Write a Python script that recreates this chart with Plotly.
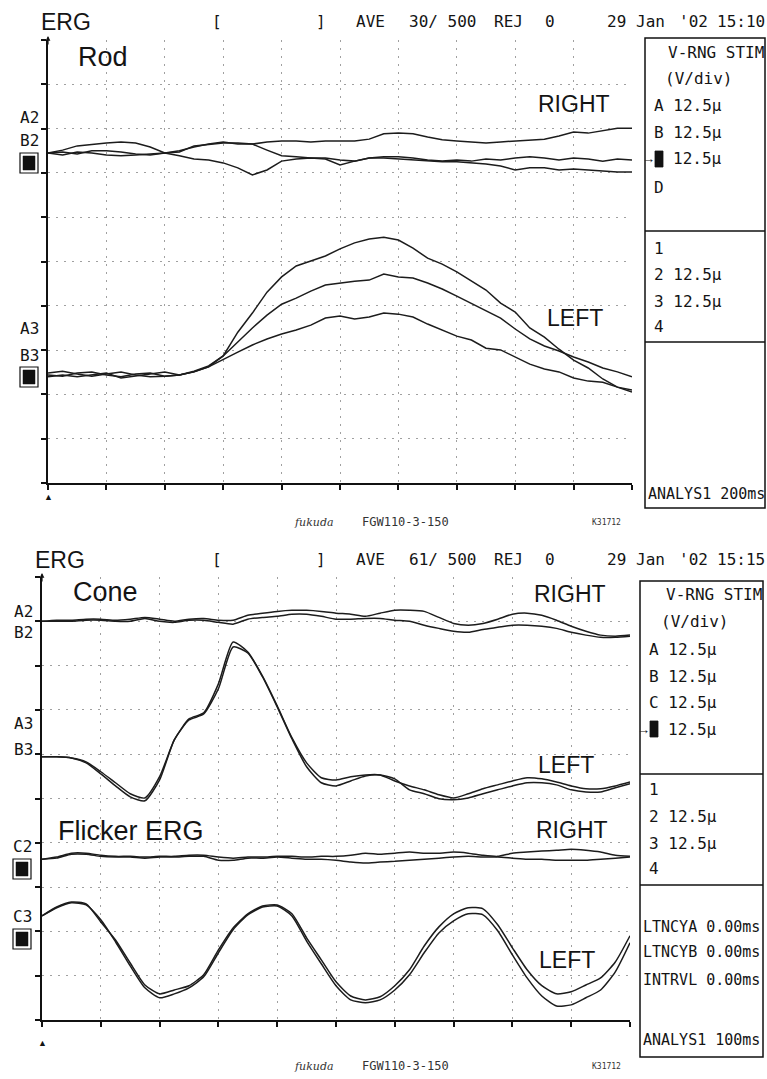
import plotly.graph_objects as go

W, H = 767, 1079

# ---------------- DATA ----------------
UV_PER_DIV = 12.5  # V-RNG 12.5 uV/div

# Rod ERG: analysis 200 ms (5 ms samples), amplitudes in uV relative to channel baseline
rod_t = [0, 5, 10, 15, 20, 25, 30, 35, 40, 45, 50, 55, 60, 65, 70, 75, 80, 85, 90, 95, 100,
         105, 110, 115, 120, 125, 130, 135, 140, 145, 150, 155, 160, 165, 170, 175, 180, 185, 190, 195, 200]
rod_right_1 = [0, 0.8, 2.0, 2.5, 2.8, 3.1, 2.8, 1.7, 0, 0.6, 1.7, 2.5, 3.1, 2.5, 2.5, 3.1, 3.4, 3.4, 3.1, 3.4,
               3.4, 3.4, 3.9, 5.4, 5.6, 5.4, 4.5, 3.7, 3.4, 3.1, 2.8, 3.1, 3.4, 3.7, 3.9, 4.8, 5.9, 5.6, 6.2, 7.0, 7.0]
rod_right_2 = [0, -0.6, 0.3, 0, -0.6, -0.8, -0.6, -0.3, 0, -0.8, -1.7, -2.0, -2.8, -4.2, -6.2, -4.8, -2.3, -1.7, -1.4, -1.7,
               -3.4, -2.3, -1.4, -1.1, -1.1, -1.4, -2.0, -2.3, -2.0, -2.3, -1.7, -2.0, -1.4, -1.1, -1.4, -2.0, -1.4, -1.7, -2.3, -1.7, -2.0]
rod_right_3 = [0, 0.3, -0.3, 0.6, 0.6, 0.3, -0.3, -0.6, 0, 0.3, 2.0, 2.5, 2.8, 2.8, 2.5, 0.8, -0.8, -1.1, -1.4, -1.4,
               -2.0, -2.3, -1.4, -1.4, -1.7, -2.0, -2.3, -2.5, -2.5, -2.8, -3.1, -3.7, -4.8, -4.2, -4.2, -4.8, -4.5, -4.8, -5.1, -5.4, -5.4]
rod_left_1 = [0.3, 0.8, 0, -0.6, 0, 0.6, -0.3, -0.8, -0.6, -0.3, 0.8, 2.3, 5.1, 11.8, 17.2, 23.1, 27.4, 30.5, 31.9, 33.3,
              35.3, 37.0, 38.1, 38.6, 37.8, 35.5, 32.7, 31.0, 28.8, 26.2, 23.7, 20.0, 17.5, 13.0, 10.4, 7.0, 3.9, 1.7, -1.4, -3.7, -5.1]
rod_left_2 = [-0.3, -0.6, 0.3, 0.6, -0.3, -0.8, 0, 0.3, -0.6, -0.3, 0.6, 2.0, 5.1, 9.0, 13.0, 16.6, 19.7, 21.4, 23.4, 25.1,
              25.7, 26.2, 26.5, 28.2, 27.4, 27.1, 25.7, 24.0, 22.0, 20.0, 17.8, 15.8, 12.7, 9.9, 7.9, 6.5, 4.8, 3.4, 1.7, 0.6, -0.8]
rod_left_3 = [-0.8, -0.3, -0.8, -0.3, 0.3, -1.1, -0.6, 0, 0.6, -0.3, 0.6, 2.0, 4.2, 6.2, 8.2, 9.9, 11.3, 12.4, 13.8, 15.8,
              16.4, 15.5, 16.1, 17.2, 16.9, 16.1, 14.1, 12.4, 10.7, 9.6, 7.3, 6.8, 4.8, 2.8, 1.4, 0.6, -1.1, -2.0, -2.3, -3.7, -4.5]

# Cone / Flicker ERG: analysis 100 ms (2.5 ms samples)
cone_t = [0, 2.5, 5, 7.5, 10, 12.5, 15, 17.5, 20, 22.5, 25, 27.5, 30, 32.5, 35, 37.5, 40, 42.5, 45, 47.5, 50,
          52.5, 55, 57.5, 60, 62.5, 65, 67.5, 70, 72.5, 75, 77.5, 80, 82.5, 85, 87.5, 90, 92.5, 95, 97.5, 100]
cone_right_1 = [0, 0.3, 0.3, 0.6, 0.6, 0.3, 0.6, 1.1, 0.6, 0, 0.6, 0.8, 0.3, 0.3, 1.7, 2.3, 2.8, 3.1, 3.1, 2.8,
                2.3, 2.0, 1.4, 2.3, 3.1, 3.1, 2.8, 1.1, -0.6, -1.1, -0.6, 0.6, 2.0, 2.3, 1.7, 0.3, -1.4, -2.8, -3.9, -4.2, -3.9]
cone_right_2 = [0, 0, 0, 0.3, 0.3, 0, 0, 0.8, 0, -0.3, 0.3, 0.3, -0.3, -0.8, 0.6, 1.1, 1.4, 2.0, 2.0, 1.4,
                0.6, 0.6, 0.8, 0.8, 0.3, 0, -1.1, -2.0, -2.8, -3.1, -2.3, -1.7, -1.1, -1.1, -1.4, -2.0, -3.1, -3.9, -4.5, -4.5, -4.2]
cone_left_1 = [0, 0, -0.3, -1.4, -4.2, -7.3, -10.4, -11.6, -5.6, 4.8, 10.7, 12.4, 20.6, 32.4, 29.6, 22.8, 14.4, 5.4, -1.7, -5.9,
               -6.5, -5.6, -5.1, -5.1, -6.8, -8.2, -9.3, -10.7, -11.6, -10.4, -9.0, -7.9, -6.8, -5.9, -6.2, -7.1, -8.2, -9.0, -9.0, -8.2, -7.1]
cone_left_2 = [0, 0, -0.3, -1.7, -4.8, -8.2, -11.3, -12.4, -6.5, 4.8, 10.4, 12.1, 19.2, 31.0, 29.3, 22.6, 14.1, 5.1, -2.8, -7.3,
               -8.2, -6.8, -5.4, -5.1, -6.2, -9.3, -10.4, -11.8, -12.1, -11.6, -10.4, -9.3, -8.2, -7.3, -7.3, -7.9, -9.3, -9.9, -9.9, -8.7, -7.6]
flicker_right_1 = [0, 0.6, 1.7, 1.7, 1.1, 0.8, 0.8, 0.6, 0.8, 0.8, 1.1, 1.1, 0.6, 0.3, 0.6, 0.6, 0.8, 0.8, 0.6, 0.8,
                   0.8, 1.1, 1.7, 1.4, 1.7, 2.0, 1.7, 1.7, 2.0, 1.7, 1.1, 0.8, 1.7, 2.0, 2.3, 2.5, 2.8, 2.5, 2.0, 1.1, 0.8]
flicker_right_2 = [0, 0.3, 1.4, 1.4, 0.8, 0.6, 0.6, 0.3, 0.6, 0.6, 0.8, 0.8, -0.3, -0.3, 0.3, 0.3, 0.6, 0.3, 0, 0,
                   -0.3, -0.8, -1.1, -0.8, -0.6, -0.3, 0, 0.3, 0.6, 0.8, 0.6, 0.6, 0.3, 0, 0, -0.3, -0.3, -0.3, 0, 0.3, 0.6]
flicker_left_1 = [0, 2.5, 3.9, 3.4, -1.7, -6.8, -13.3, -19.5, -22.0, -20.9, -19.7, -16.6, -9.6, -3.4, 0.6, 2.8, 3.1, 0.6, -6.2, -12.4,
                  -18.6, -22.6, -23.7, -22.8, -19.7, -15.2, -8.5, -3.1, 0.6, 2.3, 2.0, -2.5, -9.0, -15.2, -19.7, -22.0, -21.4, -19.5, -17.5, -13.0, -5.6]
flicker_left_2 = [0, 2.3, 3.7, 3.1, -1.1, -7.3, -14.1, -20.3, -23.1, -22.0, -20.3, -17.2, -10.4, -3.9, 0.3, 2.5, 2.8, 0, -7.1, -13.5,
                  -19.7, -23.7, -24.5, -23.7, -20.9, -16.6, -10.4, -4.8, -1.4, 0.6, 0.3, -4.2, -11.0, -17.5, -22.6, -25.4, -25.1, -23.1, -20.9, -15.8, -7.6]

# ---------------- DISPLAY (channel baselines in divisions) ----------------
BASE_ROD_RIGHT, BASE_ROD_LEFT = 7.45, 2.46
BASE_CONE_RIGHT, BASE_CONE_LEFT = 9.0, 5.94
BASE_FLK_RIGHT, BASE_FLK_LEFT = 3.63, 2.35

LINE = dict(color="#1c1c1c", width=1.5)
SANS = "Liberation Sans, Arial, sans-serif"
MONO = "DejaVu Sans Mono, Liberation Mono, monospace"
FS = 16  # instrument text size

fig = go.Figure()

def add(t, vals, base, xa, ya, shape="linear"):
    line = dict(shape=shape, smoothing=0.6, **LINE) if shape == "spline" else dict(**LINE)
    fig.add_trace(go.Scatter(x=t, y=[base * UV_PER_DIV + v for v in vals], mode="lines",
                             line=line, xaxis=xa, yaxis=ya, hoverinfo="skip"))

for s in (rod_right_1, rod_right_2, rod_right_3):
    add(rod_t, s, BASE_ROD_RIGHT, "x", "y")
for s in (rod_left_1, rod_left_2, rod_left_3):
    add(rod_t, s, BASE_ROD_LEFT, "x", "y")
for s in (cone_right_1, cone_right_2):
    add(cone_t, s, BASE_CONE_RIGHT, "x2", "y2", "spline")
for s in (cone_left_1, cone_left_2):
    add(cone_t, s, BASE_CONE_LEFT, "x2", "y2", "spline")
for s in (flicker_right_1, flicker_right_2):
    add(cone_t, s, BASE_FLK_RIGHT, "x2", "y2", "spline")
for s in (flicker_left_1, flicker_left_2):
    add(cone_t, s, BASE_FLK_LEFT, "x2", "y2", "spline")

common = dict(showline=True, linecolor="#111", ticks="outside", tickcolor="#111", ticklen=5, tickwidth=1.5,
              showticklabels=False, zeroline=False, showgrid=True, gridcolor="#a0a0a0",
              griddash="2px,6px", gridwidth=1.3, fixedrange=True, tick0=0)

fig.update_layout(
    width=W, height=H, margin=dict(l=0, r=0, t=0, b=0),
    paper_bgcolor="white", plot_bgcolor="white", showlegend=False,
    xaxis=dict(domain=[48 / W, 632 / W], range=[0, 200], dtick=20, anchor="y", linewidth=2, **common),
    yaxis=dict(domain=[1 - 483 / H, 1 - 40 / H], range=[0, 125], dtick=12.5, anchor="x", linewidth=1.5, **common),
    xaxis2=dict(domain=[42 / W, 630 / W], range=[0, 100], dtick=10, anchor="y2", linewidth=2, **common),
    yaxis2=dict(domain=[1 - 1020 / H, 1 - 577 / H], range=[0, 125], dtick=12.5, anchor="x2", linewidth=1.5, **common),
)

def P(x, y):
    return x / W, 1 - y / H

def txt(x, y, s, size=FS, family=MONO, anchor="center", color="#141414"):
    px_, py_ = P(x, y)
    fig.add_annotation(x=px_, y=py_, xref="paper", yref="paper", text=s, showarrow=False,
                       font=dict(size=size, family=family, color=color), xanchor=anchor, yanchor="middle",
                       borderpad=0)

def rect(x0, y0, x1, y1, fill="white", lw=1.5):
    a0, b0 = P(x0, y0)
    a1, b1 = P(x1, y1)
    fig.add_shape(type="rect", xref="paper", yref="paper", x0=a0, y0=b1, x1=a1, y1=b0,
                  line=dict(color="#111", width=lw), fillcolor=fill, layer="above")

def hline(x0, x1, y, lw=1.5):
    a0, b = P(x0, y)
    a1, _ = P(x1, y)
    fig.add_shape(type="line", xref="paper", yref="paper", x0=a0, y0=b, x1=a1, y1=b,
                  line=dict(color="#111", width=lw))

# headers
for (yh, erg_x, ave, clock) in ((22, 66, "30/ 500", "15:10"), (560, 60, "61/ 500", "15:15")):
    txt(erg_x, yh, "ERG", 23, SANS)
    txt(217, yh, "[")
    txt(321, yh, "]")
    txt(370, yh, "AVE")
    txt(442, yh, ave)
    txt(508, yh, "REJ")
    txt(550, yh, "0")
    txt(616, yh, "29")
    txt(650, yh, "Jan")
    txt(693, yh, "'02")
    txt(766, yh, clock, anchor="right")

# panel labels
txt(103, 57, "Rod", 27, SANS)
txt(105, 592, "Cone", 27, SANS)
txt(131, 831, "Flicker ERG", 27, SANS)
txt(574, 104, "RIGHT", 23, SANS)
txt(575, 318, "LEFT", 23, SANS)
txt(570, 594, "RIGHT", 23, SANS)
txt(566, 765, "LEFT", 23, SANS)
txt(572, 830, "RIGHT", 23, SANS)
txt(567, 960, "LEFT", 23, SANS)

# channel labels and markers
def marker_box(cx, cy):
    rect(cx - 9, cy - 10, cx + 9, cy + 10, fill="white", lw=1.2)
    rect(cx - 6, cy - 7, cx + 6, cy + 7, fill="#111", lw=0.5)

txt(29, 117, "A2"); txt(29, 140, "B2"); marker_box(29, 163)
txt(29, 328, "A3"); txt(29, 355, "B3"); marker_box(29, 377)
txt(23, 611, "A2"); txt(23, 632, "B2")
txt(23, 723, "A3"); txt(23, 749, "B3")
txt(22, 846, "C2"); marker_box(22, 869)
txt(22, 916, "C3"); marker_box(22, 939)

# trigger markers and axis arrows
txt(48, 497, "▲", 9, SANS)
txt(42, 1043, "▲", 9, SANS)
for (ax_x, ax_y) in ((48, 36), (42, 573)):
    a, b = P(ax_x, ax_y)
    fig.add_annotation(x=a, y=b, xref="paper", yref="paper", showarrow=True, ax=0, ay=10,
                       axref="pixel", ayref="pixel", arrowhead=2, arrowsize=0.8, arrowwidth=1.2,
                       arrowcolor="#111", text="")

# info box - top
rect(645, 38, 765, 508)
hline(645, 765, 231)
hline(645, 765, 342)
txt(667, 52, "V-RNG STIM", anchor="left")
txt(664, 79, "(V/div)", anchor="left")
txt(653, 106, "A 12.5µ", anchor="left")
txt(653, 132, "B 12.5µ", anchor="left")
txt(648, 159, "→", 13, SANS)
rect(655, 151, 663, 167, fill="#111", lw=0.8)
txt(672, 159, "12.5µ", anchor="left")
txt(653, 187, "D", anchor="left")
txt(653, 248, "1", anchor="left")
txt(653, 275, "2 12.5µ", anchor="left")
txt(653, 301, "3 12.5µ", anchor="left")
txt(653, 326, "4", anchor="left")
txt(647, 494, "ANALYS1 200ms", 15, anchor="left")

# info box - bottom
rect(640, 581, 763, 1057)
hline(640, 763, 774)
hline(640, 763, 885)
txt(665, 594, "V-RNG STIM", anchor="left")
txt(660, 621, "(V/div)", anchor="left")
txt(648, 649, "A 12.5µ", anchor="left")
txt(648, 676, "B 12.5µ", anchor="left")
txt(648, 702, "C 12.5µ", anchor="left")
txt(643, 729, "→", 13, SANS)
rect(650, 721, 658, 737, fill="#111", lw=0.8)
txt(667, 729, "12.5µ", anchor="left")
txt(648, 789, "1", anchor="left")
txt(648, 816, "2 12.5µ", anchor="left")
txt(648, 843, "3 12.5µ", anchor="left")
txt(648, 868, "4", anchor="left")
txt(642, 927, "LTNCYA 0.00ms", 15, anchor="left")
txt(642, 952, "LTNCYB 0.00ms", 15, anchor="left")
txt(642, 980, "INTRVL 0.00ms", 15, anchor="left")
txt(642, 1040, "ANALYS1 100ms", 15, anchor="left")

# footers
for yf in (522, 1066):
    txt(314, yf, "<i>fukuda</i>", 11, "DejaVu Serif, serif", color="#333")
    txt(405, yf, "FGW110-3-150", 12, MONO, color="#333")
    txt(606, yf, "K31712", 8, MONO, color="#333")

fig.write_html("out.html", config={"displayModeBar": False},
               post_script="document.body.style.margin='0';document.body.style.overflow='hidden';")
